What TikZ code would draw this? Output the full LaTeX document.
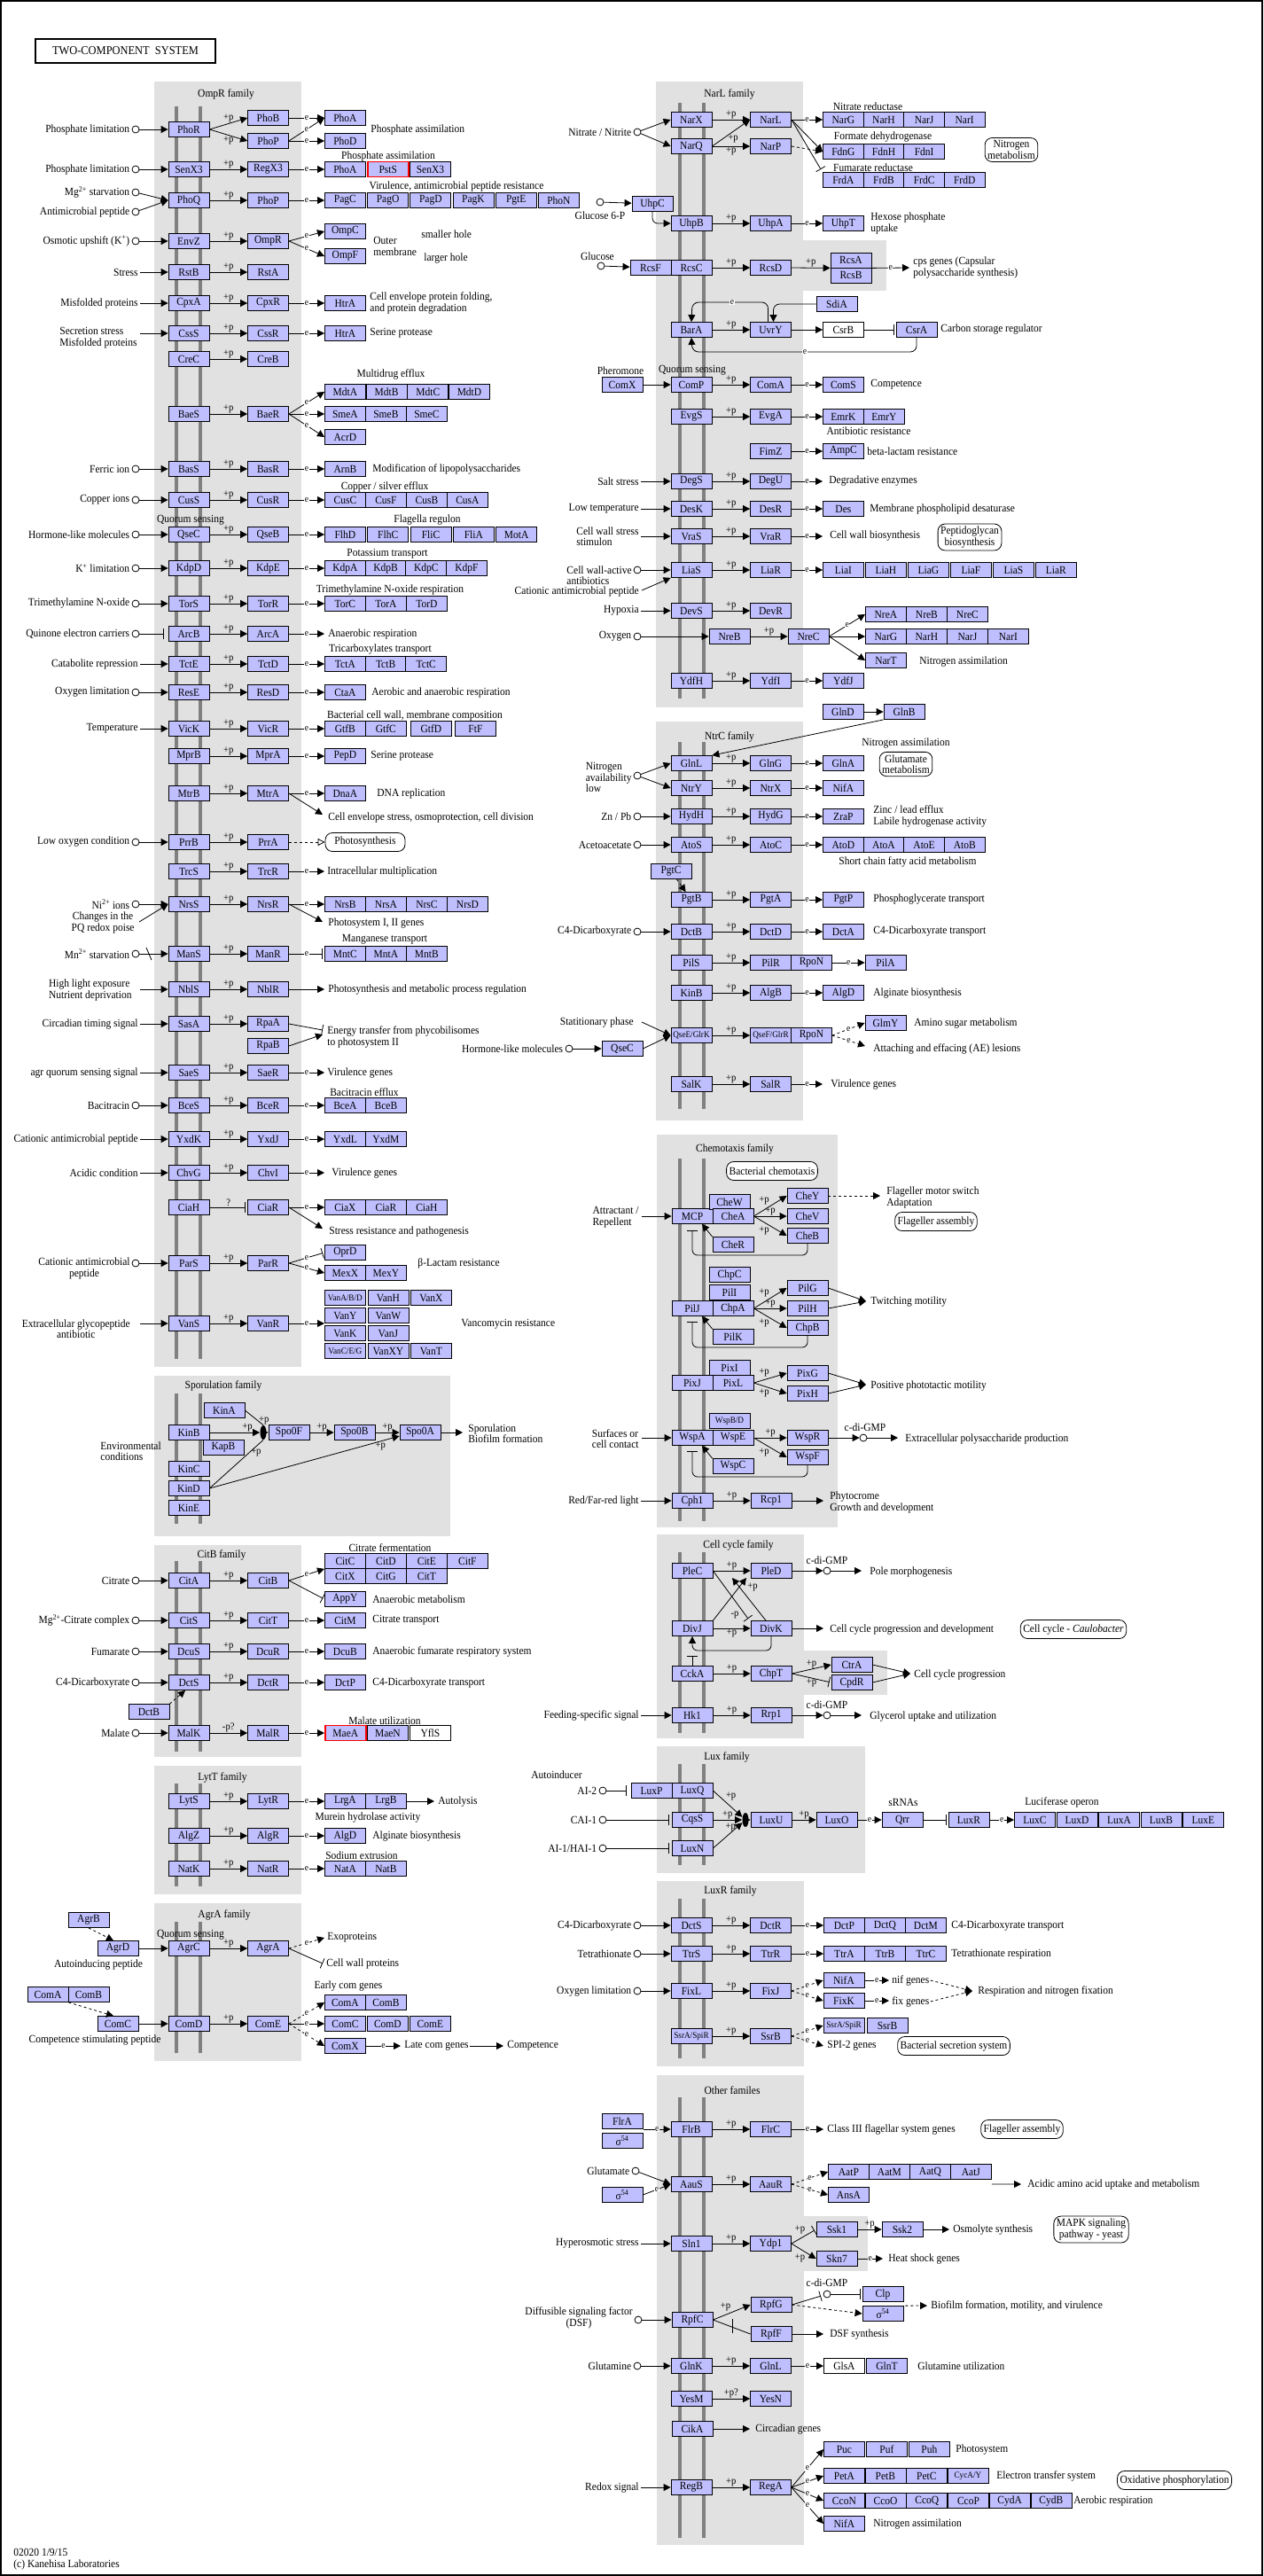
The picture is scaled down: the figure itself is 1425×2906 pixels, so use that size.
\documentclass[tikz,border=0pt]{standalone}
\usepackage{fontspec}
\setmainfont{Liberation Serif}[FakeStretch=0.92]
\usetikzlibrary{arrows.meta,shapes.geometric}

\definecolor{kgene}{RGB}{191,191,255}
\definecolor{kpanel}{RGB}{225,225,225}
\definecolor{kbar}{RGB}{128,128,128}

\tikzset{
  every node/.style={font=\fontsize{12.5}{12.5}\selectfont},
  gene/.style={draw, fill=kgene, minimum width=46pt, minimum height=17pt, inner sep=0pt},
  wgene/.style={gene, fill=white},
  rgene/.style={gene, draw=red, line width=1.6pt},
  mbar/.style={draw=kbar, line width=4pt},
  sigc/.style={circle, draw, fill=white, minimum size=8pt, inner sep=0pt},
  act/.style={-{Triangle[length=8pt,width=8pt]}},
  inh/.style={-{Bar[width=12pt]}, shorten >=2pt},
  dact/.style={act, dashed},
  junc/.style={ellipse, fill=black, minimum width=7pt, minimum height=16pt, inner sep=0pt},
  txt/.style={inner sep=1pt, align=left},
  lbl/.style={inner sep=1pt, font=\fontsize{11.5}{11.5}\selectfont},
  elab/.style={fill=white, inner sep=0.6pt, font=\fontsize{10.5}{10.5}\selectfont},
  rbox/.style={draw, fill=white, rounded corners=8pt, inner sep=3pt, minimum height=21pt, align=center},
}

\newcommand{\sm}[1]{{\fontsize{10}{10}\selectfont #1}}
% sensor -> regulator pair: [label]{id}{x}{y}{sensor}{regulator}
\newcommand{\tcs}[6][+p]{%
  \node[gene] (#2s) at (#3,#4) {#5};
  \node[gene] (#2r) at ({#3+89.5},#4) {#6};
  \draw[act] (#2s) -- node[lbl,above]{#1} (#2r);}
% genes side by side: {id}{x}{y}{spacing}{list}
\newcommand{\chain}[5]{%
  \foreach \g [count=\i] in {#5} {\node[gene,anchor=west] (#1\i) at ({#2+(\i-1)*#4},#3) {\g};}}
\newcommand{\eto}[2]{\draw[act] (#1) -- node[elab]{e} (#2);}
\newcommand{\sig}[4]{\node[sigc] (#1) at (#2,#3) {}; \node[txt,anchor=east] at ([xshift=-1pt]#1.west) {#4};}
\newcommand{\psig}[4]{\coordinate (#1) at (#2,#3); \node[txt,anchor=east] at ([xshift=-1pt]#1) {#4};}

\begin{document}
\begin{tikzpicture}[x=1pt, y=-1pt, line width=0.8pt]
\useasboundingbox (0,0) rectangle (1425,2906);
\draw[line width=1.5pt] (1,1) rectangle (1424,2905);
\node[draw, line width=2pt, minimum width=203pt, minimum height=27pt, inner sep=0pt,
  font=\fontsize{13.5}{14}\selectfont] (title) at (141.5,57.5) {TWO-COMPONENT\ \ SYSTEM};

% family panels
\fill[kpanel] (174,92) rectangle (340,1542);
\fill[kpanel] (174,1552) rectangle (508,1733);
\fill[kpanel] (174,1743) rectangle (340,1982);
\fill[kpanel] (174,1992) rectangle (340,2137);
\fill[kpanel] (174,2147) rectangle (340,2325);
\fill[kpanel] (740,92) rectangle (906,798);
\fill[kpanel] (906,271) rectangle (1000,328);
\fill[kpanel] (740,814) rectangle (906,1264);
\fill[kpanel] (741,1280) rectangle (945,1723);
\fill[kpanel] (741,1731) rectangle (907,1961);
\fill[kpanel] (907,1862) rectangle (1001,1912);
\fill[kpanel] (741,1970) rectangle (976,2113);
\fill[kpanel] (741,2122) rectangle (907,2331);
\fill[kpanel] (741,2341) rectangle (907,2871);
\fill[kpanel] (907,2500) rectangle (979,2562);
\foreach \xa/\ya/\yb in {199/120/1533, 226/120/1533, 199/1572/1719, 226/1572/1719,
    199/1761/1976, 226/1761/1976, 199/2012/2128, 226/2012/2128, 199/2168/2316, 226/2168/2316,
    767/116/788, 794/116/788, 767/837/1251, 794/837/1251, 767/1307/1716, 794/1307/1716,
    767/1751/1955, 794/1751/1955, 767/1990/2104, 794/1990/2104, 767/2142/2322, 794/2142/2322,
    767/2366/2863, 794/2366/2863}
  \draw[mbar] (\xa,\ya) -- (\xa,\yb);
\node at (255,106) {OmpR family};
\node at (252,1563) {Sporulation family};
\node at (250,1754) {CitB family};
\node at (251,2005) {LytT family};
\node at (253,2160) {AgrA family};
\node at (823,106) {NarL family};
\node at (823,831) {NtrC family};
\node at (829,1296) {Chemotaxis family};
\node at (833,1743) {Cell cycle family};
\node at (820,1982) {Lux family};
\node at (824,2133) {LuxR family};
\node at (826,2358) {Other familes};

% ---- OmpR family ----
\sig{pho1c}{153}{146}{Phosphate limitation}
\node[gene] (phor) at (213,146) {PhoR};
\node[gene] (phob) at (302.5,133) {PhoB};
\node[gene] (phop) at (302.5,159) {PhoP};
\draw[act] (pho1c) -- (phor);
\draw[act] (phor.east) -- node[lbl,above]{+p} (phob.west);
\draw[act] (phor.east) -- node[lbl,below]{+p} (phop.west);
\node[gene,anchor=west] (phoa) at (366,133) {PhoA};
\node[gene,anchor=west] (phod) at (366,159) {PhoD};
\eto{phob}{phoa}
\eto{phop}{phod}
\draw[act] (phop.east) -- node[elab]{e} (phoa.west);
\node[txt,anchor=west] at (417,146) {Phosphate assimilation};

\sig{senc}{153}{191}{Phosphate limitation}
\tcs{senx}{213}{191}{SenX3}{RegX3}
\draw[act] (senc) -- (senxs);
\node[gene,anchor=west] (px1) at (366,191) {PhoA};
\node[rgene,anchor=west] (px2) at (414,191) {PstS};
\node[gene,anchor=west] (px3) at (462,191) {SenX3};
\eto{senxr}{px1}
\node at (438,176) {Phosphate assimilation};

\sig{mgc}{153}{217}{Mg\textsuperscript{2+} starvation}
\sig{amc}{153}{239}{Antimicrobial peptide}
\tcs{phoq}{213}{226}{PhoQ}{PhoP}
\draw[act] (mgc) -- (phoqs.west);
\draw[act] (amc) -- (phoqs.west);
\chain{pag}{366}{226}{48.2}{PagC,PagO,PagD,PagK,PgtE,PhoN}
\eto{phoqr}{pag1}
\node at (515,210) {Virulence, antimicrobial peptide resistance};

\sig{osmc}{153}{272}{Osmotic upshift (K\textsuperscript{+})}
\tcs{envz}{213}{272}{EnvZ}{OmpR}
\draw[act] (osmc) -- (envzs);
\node[gene,anchor=west] (ompc) at (366,261) {OmpC};
\node[gene,anchor=west] (ompf) at (366,289) {OmpF};
\draw[act] (envzr.east) -- node[elab]{e} (ompc.west);
\draw[act] (envzr.east) -- node[elab]{e} (ompf.west);
\node[txt,anchor=west] at (420,278) {Outer\\membrane};
\node[txt,anchor=west] at (474,264) {smaller hole};
\node[txt,anchor=west] at (477,292) {larger hole};

\psig{strc}{158}{307}{Stress}
\tcs{rst}{213}{307}{RstB}{RstA}
\draw[act] (strc) -- (rsts);

\psig{mfc}{158}{342}{Misfolded proteins}
\tcs{cpx}{213}{342}{CpxA}{CpxR}
\draw[act] (mfc) -- (cpxs);
\node[gene,anchor=west] (htra1) at (366,342) {HtrA};
\eto{cpxr}{htra1}
\node[txt,anchor=west] at (416,342) {Cell envelope protein folding,\\and protein degradation};

\coordinate (secc) at (158,376);
\node[txt,anchor=east] at (156,381) {Secretion stress\\Misfolded proteins};
\tcs{css}{213}{376}{CssS}{CssR}
\draw[act] (secc) -- (csss);
\node[gene,anchor=west] (htra2) at (366,376) {HtrA};
\eto{cssr}{htra2}
\node[txt,anchor=west] at (416,376) {Serine protease};

\tcs{cre}{213}{405}{CreC}{CreB}

\tcs{bae}{213}{467}{BaeS}{BaeR}
\chain{mdt}{366}{442}{46.7}{MdtA,MdtB,MdtC,MdtD}
\chain{sme}{366}{467}{46}{SmeA,SmeB,SmeC}
\node[gene,anchor=west] (acrd) at (366,493) {AcrD};
\draw[act] (baer.east) -- node[elab]{e} (mdt1.west);
\eto{baer}{sme1}
\draw[act] (baer.east) -- node[elab]{e} (acrd.west);
\node at (441,422) {Multidrug efflux};

\sig{fec}{153}{529}{Ferric ion}
\tcs{bas}{213}{529}{BasS}{BasR}
\draw[act] (fec) -- (bass);
\node[gene,anchor=west] (arnb) at (366,529) {ArnB};
\eto{basr}{arnb}
\node[txt,anchor=west] at (419,529) {Modification of lipopolysaccharides};

\sig{cuc}{153}{564}{Copper ions}
\tcs{cus}{213}{564}{CusS}{CusR}
\draw[act] (cuc) -- (cuss);
\chain{cusg}{366}{564}{46}{CusC,CusF,CusB,CusA}
\eto{cusr}{cusg1}
\node at (434,549) {Copper / silver efflux};

\sig{hlc}{153}{603}{Hormone-like molecules}
\tcs{qse}{213}{603}{QseC}{QseB}
\draw[act] (hlc) -- (qses);
\chain{fl}{366}{603}{48.3}{FlhD,FlhC,FliC,FliA,MotA}
\eto{qser}{fl1}
\node at (215,587) {Quorum sensing};
\node at (482,587) {Flagella regulon};

\sig{kc}{153}{641}{K\textsuperscript{+} limitation}
\tcs{kdp}{213}{641}{KdpD}{KdpE}
\draw[act] (kc) -- (kdps);
\chain{kdpg}{366}{641}{45.7}{KdpA,KdpB,KdpC,KdpF}
\eto{kdpr}{kdpg1}
\node at (437,625) {Potassium transport};

\sig{tmc}{153}{681}{Trimethylamine N-oxide}
\tcs{tor}{213}{681}{TorS}{TorR}
\draw[act] (tmc) -- (tors);
\chain{torg}{366}{681}{46}{TorC,TorA,TorD}
\eto{torr}{torg1}
\node at (440,666) {Trimethylamine N-oxide respiration};

\sig{qc}{153}{715}{Quinone electron carriers}
\tcs{arc}{213}{715}{ArcB}{ArcA}
\draw[inh, shorten >=5pt] (qc) -- (arcs);
\coordinate (anr) at (366,715);
\eto{arcr}{anr}
\node[txt,anchor=west] at (369,715) {Anaerobic respiration};

\psig{catc}{158}{749}{Catabolite repression}
\tcs{tct}{213}{749}{TctE}{TctD}
\draw[act] (catc) -- (tcts);
\chain{tctg}{366}{749}{45.7}{TctA,TctB,TctC}
\eto{tctr}{tctg1}
\node at (429,733) {Tricarboxylates transport};

\sig{olc}{153}{781}{Oxygen limitation}
\tcs{res}{213}{781}{ResE}{ResD}
\draw[act] (olc) -- (ress);
\node[gene,anchor=west] (ctaa) at (366,781) {CtaA};
\eto{resr}{ctaa}
\node[txt,anchor=west] at (418,781) {Aerobic and anaerobic respiration};

\psig{tmpc}{158}{822}{Temperature}
\tcs{vic}{213}{822}{VicK}{VicR}
\draw[act] (tmpc) -- (vics);
\chain{gtf}{366}{822}{46}{GtfB,GtfC}
\node[gene,anchor=west] (gtfd) at (463,822) {GtfD};
\node[gene,anchor=west] (ftf) at (513,822) {FtF};
\eto{vicr}{gtf1}
\node at (468,807) {Bacterial cell wall, membrane composition};

\tcs{mpr}{213}{853}{MprB}{MprA}
\node[gene,anchor=west] (pepd) at (366,853) {PepD};
\eto{mprr}{pepd}
\node[txt,anchor=west] at (417,853) {Serine protease};

\tcs{mtr}{213}{895}{MtrB}{MtrA}
\node[gene,anchor=west] (dnaa) at (366,895) {DnaA};
\eto{mtrr}{dnaa}
\node[txt,anchor=west] at (424,895) {DNA replication};
\coordinate (cesc) at (364,919);
\draw[act] (mtrr.east) -- (cesc);
\node[txt,anchor=west] at (369,922) {Cell envelope stress, osmoprotection, cell division};

\sig{loc}{153}{950}{Low oxygen condition}
\tcs{prr}{213}{950}{PrrB}{PrrA}
\draw[act] (loc) -- (prrs);
\node[rbox, minimum width=90pt] (photo) at (412,950) {Photosynthesis};
\draw[dashed, -{Triangle[open,length=8pt,width=8pt]}] (prrr) -- (photo);

\tcs{trc}{213}{983}{TrcS}{TrcR}
\coordinate (imc) at (366,983);
\eto{trcr}{imc}
\node[txt,anchor=west] at (368,983) {Intracellular multiplication};

\sig{nic}{153}{1020}{Ni\textsuperscript{2+} ions}
\tcs{nrs}{213}{1020}{NrsS}{NrsR}
\draw[act] (nic) -- (nrss);
\coordinate (pqc) at (157,1040);
\node[txt,anchor=east,align=center] at (153,1041) {Changes in the\\PQ redox poise};
\draw[act] (pqc) -- (nrss.west);
\chain{nrsg}{366}{1020}{46}{NrsB,NrsA,NrsC,NrsD}
\eto{nrsr}{nrsg1}
\coordinate (psc) at (364,1040);
\draw[act] (nrsr.east) -- (psc);
\node[txt,anchor=west] at (369,1042) {Photosystem I, II genes};

\sig{mnc}{153}{1076}{Mn\textsuperscript{2+} starvation}
\tcs{man}{213}{1076}{ManS}{ManR}
\draw[act] (mnc) -- (mans);
\draw (165,1069) -- (171,1083);
\chain{mnt}{366}{1076}{46}{MntC,MntA,MntB}
\draw[inh] (manr) -- node[elab]{e} (mnt1);
\node at (434,1060) {Manganese transport};

\coordinate (hlec) at (158,1116);
\node[txt,anchor=east] at (150,1117) {High light exposure\\Nutrient deprivation};
\tcs{nbl}{213}{1116}{NblS}{NblR}
\draw[act] (hlec) -- (nbls);
\coordinate (pmc) at (366,1116);
\draw[act] (nblr) -- (pmc);
\node[txt,anchor=west] at (369,1116) {Photosynthesis and metabolic process regulation};

\psig{cts}{158}{1155}{Circadian timing signal}
\tcs{sas}{213}{1155}{SasA}{RpaA}
\draw[act] (cts) -- (sass);
\node[gene] (rpab) at (302.5,1180) {RpaB};
\coordinate (ene1) at (364,1162);
\coordinate (ene2) at (364,1167);
\draw[inh, shorten >=0pt] (sasr.east) -- (ene1);
\draw[act] (rpab.east) -- (ene2);
\node[txt,anchor=west] at (368,1170) {Energy transfer from phycobilisomes\\to photosystem II};

\psig{agc}{158}{1210}{agr quorum sensing signal}
\tcs{sae}{213}{1210}{SaeS}{SaeR}
\draw[act] (agc) -- (saes);
\coordinate (vg1) at (366,1210);
\eto{saer}{vg1}
\node[txt,anchor=west] at (368,1210) {Virulence genes};

\sig{bcc}{153}{1247}{Bacitracin}
\tcs{bce}{213}{1247}{BceS}{BceR}
\draw[act] (bcc) -- (bces);
\chain{bceg}{366}{1247}{46}{BceA,BceB}
\eto{bcer}{bceg1}
\node at (411,1232) {Bacitracin efflux};

\psig{cap1}{158}{1285}{Cationic antimicrobial peptide}
\tcs{yxd}{213}{1285}{YxdK}{YxdJ}
\draw[act] (cap1) -- (yxds);
\chain{yxdg}{366}{1285}{46}{YxdL,YxdM}
\eto{yxdr}{yxdg1}

\psig{acc}{158}{1323}{Acidic condition}
\tcs{chv}{213}{1323}{ChvG}{ChvI}
\draw[act] (acc) -- (chvs);
\coordinate (vg2) at (366,1323);
\eto{chvr}{vg2}
\node[txt,anchor=west] at (373,1323) {Virulence genes};

\node[gene] (ciah) at (213,1362) {CiaH};
\node[gene] (ciar) at (302.5,1362) {CiaR};
\draw[inh] (ciah) -- node[lbl,above]{?} (ciar);
\chain{ciag}{366}{1362}{46}{CiaX,CiaR,CiaH}
\eto{ciar}{ciag1}
\coordinate (srpc) at (364,1386);
\draw[act] (ciar.east) -- (srpc);
\node[txt,anchor=west] at (370,1389) {Stress resistance and pathogenesis};

\node[sigc] (cap2) at (153,1425) {};
\node[txt,anchor=east,align=center] at (148,1431) {Cationic antimicrobial\\peptide};
\tcs{par}{213}{1425}{ParS}{ParR}
\draw[act] (cap2) -- (pars);
\node[gene,anchor=west] (oprd) at (366,1413) {OprD};
\chain{mex}{366}{1436}{46}{MexX,MexY}
\draw[inh] (parr.east) -- node[elab]{e} (oprd.west);
\draw[act] (parr.east) -- node[elab]{e} (mex1.west);
\node[txt,anchor=west] at (470,1425) {β-Lactam resistance};

\coordinate (egc) at (158,1493);
\node[txt,anchor=east,align=center] at (148,1499) {Extracellular glycopeptide\\antibiotic};
\tcs{van}{213}{1493}{VanS}{VanR}
\draw[act] (egc) -- (vans);
\chain{vana}{366}{1464}{48.5}{\sm{VanA/B/D},VanH,VanX}
\chain{vanb}{366}{1484}{48.5}{VanY,VanW}
\chain{vanc}{366}{1504}{48.5}{VanK,VanJ}
\chain{vand}{366}{1524}{48.5}{\sm{VanC/E/G},VanXY,VanT}
\coordinate (vanin) at (366,1493);
\eto{vanr}{vanin}
\node[txt,anchor=west] at (519,1494) {Vancomycin resistance};

% ---- Sporulation family ----
\node[gene] (kina) at (253,1591) {KinA};
\node[gene] (kinb) at (213,1616) {KinB};
\node[gene] (kapb) at (252,1633) {KapB};
\node[gene] (kinc) at (213,1657) {KinC};
\node[gene] (kind) at (213,1679) {KinD};
\node[gene] (kine) at (213,1701) {KinE};
\node[junc] (spj) at (297,1616) {};
\node[gene] (spof) at (326,1616) {Spo0F};
\node[gene] (spob) at (400,1616) {Spo0B};
\node[gene] (spoa) at (474,1616) {Spo0A};
\draw[act] (kinb) -- node[lbl,above,pos=0.75]{+p} (spj);
\draw (kina.east) -- node[lbl,right,pos=0.7]{+p} (spj.north);
\draw (kind.east) -- node[lbl,right,pos=0.75]{+p} (spj.south);
\draw[act] (spj) -- (spof);
\draw[act] (spof) -- node[lbl,above]{+p} (spob);
\draw[act] (spob) -- node[lbl,above]{+p} (spoa);
\draw[act] (kind.east) -- node[lbl,below,pos=0.9]{+p} ([yshift=-4pt]spoa.west);
\coordinate (spor) at (522,1616);
\draw[act] (spoa) -- (spor);
\node[txt,anchor=west] at (527,1617) {Sporulation\\Biofilm formation};
\node[txt,anchor=west] at (112,1637) {Environmental\\conditions};

% ---- CitB family ----
\sig{citc}{153}{1783}{Citrate}
\tcs{cita}{213}{1783}{CitA}{CitB}
\draw[act] (citc) -- (citas);
\chain{citu}{366}{1761}{46}{CitC,CitD,CitE,CitF}
\chain{citl}{366}{1778}{46}{CitX,CitG,CitT}
\draw[act] (citar.east) -- node[elab]{e} (citu1.south west);
\node[gene,anchor=west] (appy) at (366,1804) {AppY};
\draw[inh] (citar.east) -- (appy.west);
\node[txt,anchor=west] at (419,1804) {Anaerobic metabolism};
\node at (440,1746) {Citrate fermentation};

\sig{mgcc}{153}{1828}{Mg\textsuperscript{2+}-Citrate complex}
\tcs{cits}{213}{1828}{CitS}{CitT}
\draw[act] (mgcc) -- (citss);
\node[gene,anchor=west] (citm) at (366,1828) {CitM};
\eto{citsr}{citm}
\node[txt,anchor=west] at (419,1828) {Citrate transport};

\sig{fumc}{153}{1863}{Fumarate}
\tcs{dcu}{213}{1863}{DcuS}{DcuR}
\draw[act] (fumc) -- (dcus);
\node[gene,anchor=west] (dcub) at (366,1863) {DcuB};
\eto{dcur}{dcub}
\node[txt,anchor=west] at (419,1863) {Anaerobic fumarate respiratory system};

\sig{c4c}{153}{1898}{C4-Dicarboxyrate}
\tcs{dct}{213}{1898}{DctS}{DctR}
\draw[act] (c4c) -- (dcts);
\node[gene,anchor=west] (dctp) at (366,1898) {DctP};
\eto{dctr}{dctp}
\node[txt,anchor=west] at (419,1898) {C4-Dicarboxyrate transport};
\node[gene] (dctb) at (168,1931) {DctB};
\draw[dact] (dctb.north east) -- ([xshift=-4pt]dcts.south);

\sig{malc}{153}{1955}{Malate}
\tcs[-p?]{mal}{213}{1955}{MalK}{MalR}
\draw[act] (malc) -- (mals);
\node[rgene,anchor=west] (maea) at (366,1955) {MaeA};
\node[gene,anchor=west] (maen) at (414,1955) {MaeN};
\node[wgene,anchor=west] (yfls) at (462,1955) {YflS};
\eto{malr}{maea}
\node at (434,1941) {Malate utilization};

% ---- LytT family ----
\tcs{lyt}{213}{2032}{LytS}{LytR}
\chain{lrg}{366}{2032}{46}{LrgA,LrgB}
\eto{lytr}{lrg1}
\coordinate (autc) at (490,2032);
\draw[act] (lrg2) -- (autc);
\node[txt,anchor=west] at (493,2032) {Autolysis};
\node at (415,2050) {Murein hydrolase activity};

\tcs{algz}{213}{2071}{AlgZ}{AlgR}
\node[gene,anchor=west] (algd1) at (366,2071) {AlgD};
\eto{algzr}{algd1}
\node[txt,anchor=west] at (419,2071) {Alginate biosynthesis};

\tcs{nat}{213}{2108}{NatK}{NatR}
\chain{natg}{366}{2108}{46}{NatA,NatB}
\eto{natr}{natg1}
\node at (408,2093) {Sodium extrusion};

% ---- AgrA family ----
\node at (215,2183) {Quorum sensing};
\tcs{agr}{213}{2198}{AgrC}{AgrA}
\node[gene] (agrb) at (100,2166) {AgrB};
\node[gene] (agrd) at (133,2198) {AgrD};
\draw[dact] (agrb.south) -- ([xshift=-5pt]agrd.north);
\draw[act] (agrd) -- (agrs);
\node at (111,2216) {Autoinducing peptide};
\coordinate (exo) at (366,2186);
\draw[dact] (agrr.east) -- node[elab]{e} (exo);
\node[txt,anchor=west] at (368,2186) {Exoproteins};
\coordinate (cwp) at (364,2215);
\draw[inh, shorten >=0pt] (agrr.east) -- (cwp);
\node[txt,anchor=west] at (367,2215) {Cell wall proteins};

\tcs{com}{213}{2283}{ComD}{ComE}
\node[gene] (coma0) at (54,2250) {ComA};
\node[gene] (comb0) at (100,2250) {ComB};
\node[gene] (comc0) at (133,2283) {ComC};
\draw[dact] (coma0.south east) -- ([xshift=-5pt]comc0.north);
\draw[act] (comc0) -- (coms);
\node at (107,2301) {Competence stimulating peptide};
\chain{ecom}{366}{2259}{46}{ComA,ComB}
\chain{ccom}{366}{2283}{48}{ComC,ComD,ComE}
\node[gene,anchor=west] (comx) at (366,2308) {ComX};
\draw[dact] (comr.east) -- node[elab]{e} (ecom1.west);
\eto{comr}{ccom1}
\draw[dact] (comr.east) -- node[elab]{e} (comx.west);
\coordinate (lcg) at (452,2308);
\eto{comx}{lcg}
\node[txt,anchor=west] (lcgt) at (455,2308) {Late com genes};
\coordinate (cmp) at (568,2308);
\draw[act] (lcgt.east) -- (cmp);
\node[txt,anchor=west] at (571,2308) {Competence};
\node at (393,2240) {Early com genes};

\node[txt,anchor=west] at (14,2887) {02020 1/9/15\\(c) Kanehisa Laboratories};

% ---- NarL family ----
\sig{nnc}{719}{149}{Nitrate / Nitrite}
\node[gene] (narx) at (780,135) {NarX};
\node[gene] (narq) at (780,165) {NarQ};
\node[gene] (narl) at (869.5,135) {NarL};
\node[gene] (narp) at (869.5,165) {NarP};
\draw[act] (nnc) -- (narx.west);
\draw[act] (nnc) -- (narq.west);
\draw[act] (narx) -- node[lbl,above]{+p} (narl);
\draw[act] (narq.east) -- (narl.west);
\draw[act] (narq) -- node[lbl,below]{+p} (narp);
\node[lbl] at (827,156) {+p};
\chain{narg}{928}{135}{45.6}{NarG,NarH,NarJ,NarI}
\eto{narl}{narg1}
\chain{fdn}{928}{171}{45.6}{FdnG,FdnH,FdnI}
\chain{frd}{928}{203}{45.6}{FrdA,FrdB,FrdC,FrdD}
\draw[act] (narl.east) -- (fdn1.west);
\draw[dact] (narp.east) -- (fdn1.west);
\coordinate (frdbar) at (926,191);
\draw[inh, shorten >=0pt] (narl.east) -- (frdbar);
\node at (979,120) {Nitrate reductase};
\node at (996,155) {Formate dehydrogenase};
\node at (985,189) {Fumarate reductase};
\node[rbox] at (1141,169) {Nitrogen\\metabolism};

\node[sigc] (g6c) at (677,228) {};
\node at (677,243) {Glucose 6-P};
\node[gene] (uhpc) at (736,230) {UhpC};
\draw[act] (g6c) -- (uhpc);
\tcs{uhp}{780}{252}{UhpB}{UhpA}
\draw[act, rounded corners=6pt] (uhpc.south) |- (uhps.west);
\node[gene,anchor=west] (uhpt) at (928,252) {UhpT};
\eto{uhpr}{uhpt}
\node[txt,anchor=west] at (981,252) {Hexose phosphate\\uptake};

\node[sigc] (gluc) at (678,300) {};
\node at (674,289) {Glucose};
\node[gene] (rcsf) at (734,302) {RcsF};
\draw[act] (gluc) -- (rcsf);
\tcs{rcs}{780}{302}{RcsC}{RcsD}
\node[gene] (rcsa) at (960,293.5) {RcsA};
\node[gene] (rcsb) at (960,310.5) {RcsB};
\draw[act] (rcsr.east) -- node[lbl,above]{+p} (rcsa.south west);
\coordinate (cpsc) at (1026,302);
\draw[act] (rcsa.south east) -- node[elab]{e} (cpsc);
\node[txt,anchor=west] at (1029,302) {cps genes (Capsular\\polysaccharide synthesis)};

\tcs{bar}{780}{372}{BarA}{UvrY}
\node[gene] (sdia) at (944,343) {SdiA};
\node[wgene,anchor=west] (csrb) at (928,372) {CsrB};
\node[gene] (csra) at (1034,372) {CsrA};
\draw[act] (barr) -- (csrb);
\draw[inh] (csrb) -- (csra);
\coordinate (bl2) at (781,341);
\draw[act, rounded corners=7pt] ([xshift=-3pt]barr.north) |- (bl2) -- (bars.north);
\node[elab] at (826,341) {e};
\draw[act, rounded corners=7pt] (sdia.west) -| ([xshift=3pt]barr.north);
\coordinate (bb) at (781,397);
\draw[act, rounded corners=7pt] (csra.south) |- (bb) -- (bars.south);
\node[elab] at (908,397) {e};
\node[txt,anchor=west] at (1060,372) {Carbon storage regulator};

\node at (700,418) {Pheromone};
\node[gene] (comx2) at (702,434) {ComX};
\node at (781,418) {Quorum sensing};
\tcs{comp}{780}{434}{ComP}{ComA}
\draw[act] (comx2) -- (comps);
\node[gene,anchor=west] (coms2) at (928,434) {ComS};
\eto{compr}{coms2}
\node[txt,anchor=west] at (981,434) {Competence};

\tcs{evg}{780}{470}{EvgS}{EvgA}
\chain{emr}{928}{470}{46}{EmrK,EmrY}
\eto{evgr}{emr1}
\node at (980,486) {Antibiotic resistance};

\node[gene] (fimz) at (869.5,509) {FimZ};
\node[gene,anchor=west] (ampc2) at (928,509) {AmpC};
\eto{fimz}{ampc2}
\node[txt,anchor=west] at (977,509) {beta-lactam resistance};

\psig{ssc2}{723}{543}{Salt stress}
\tcs{deg}{780}{543}{DegS}{DegU}
\draw[act] (ssc2) -- (degs);
\coordinate (dgc) at (928,543);
\eto{degr}{dgc}
\node[txt,anchor=west] at (934,543) {Degradative enzymes};

\psig{ltc}{723}{574}{Low temperature}
\tcs{des}{780}{574}{DesK}{DesR}
\draw[act] (ltc) -- (dess);
\node[gene,anchor=west] (desg) at (928,574) {Des};
\eto{desr}{desg}
\node[txt,anchor=west] at (980,574) {Membrane phospholipid desaturase};

\coordinate (cws) at (723,605);
\node[txt,anchor=east] at (722,605) {Cell wall stress\\stimulon};
\tcs{vra}{780}{605}{VraS}{VraR}
\draw[act] (cws) -- (vras);
\coordinate (cwb) at (928,605);
\eto{vrar}{cwb}
\node[txt,anchor=west] at (935,605) {Cell wall biosynthesis};
\node[rbox] at (1094,606) {Peptidoglycan\\biosynthesis};

\node[sigc] (cwa) at (719,643) {};
\node[txt,anchor=east] at (714,649) {Cell wall-active\\antibiotics};
\coordinate (cap3) at (724,666);
\node[txt,anchor=east] at (722,667) {Cationic antimicrobial peptide};
\tcs{lia}{780}{643}{LiaS}{LiaR}
\draw[act] (cwa) -- (lias);
\draw[act] (cap3) -- (lias.south west);
\chain{liag}{928}{643}{48}{LiaI,LiaH,LiaG,LiaF,LiaS,LiaR}
\eto{liar}{liag1}

\psig{hyc}{723}{689}{Hypoxia}
\tcs{dev}{780}{689}{DevS}{DevR}
\draw[act] (hyc) -- (devs);

\sig{oxc}{719}{718}{Oxygen}
\node[gene] (nreb) at (823,718) {NreB};
\node[gene] (nrec) at (912,718) {NreC};
\draw[act] (oxc) -- (nreb);
\draw[act] (nreb) -- node[lbl,above]{+p} (nrec);
\chain{nreg}{976}{693}{46}{NreA,NreB,NreC}
\chain{nar2g}{976}{718}{46}{NarG,NarH,NarJ,NarI}
\node[gene,anchor=west] (nart) at (976,745) {NarT};
\draw[act] (nrec.east) -- node[elab]{e} (nreg1.west);
\draw[act] (nrec) -- (nar2g1);
\draw[act] (nrec.east) -- (nart.west);
\node[txt,anchor=west] at (1036,747) {Nitrogen assimilation};

\tcs{ydf}{780}{768}{YdfH}{YdfI}
\node[gene,anchor=west] (ydfj) at (928,768) {YdfJ};
\eto{ydfr}{ydfj}

% ---- NtrC family ----
\node[gene] (glnd) at (951,803) {GlnD};
\node[gene] (glnb) at (1020,803) {GlnB};
\draw[act] (glnd) -- (glnb);
\node[sigc] (nalc) at (719,875) {};
\node[txt,anchor=east] at (714,877) {Nitrogen\\availability\\low};
\tcs{gln}{780}{861}{GlnL}{GlnG}
\tcs{ntr}{780}{889}{NtrY}{NtrX}
\draw[act] (glnb.south west) -- (glns.north east);
\draw[act] (nalc) -- (glns.west);
\draw[act] (nalc) -- (ntrs.west);
\node[gene,anchor=west] (glna) at (928,861) {GlnA};
\node[gene,anchor=west] (nifa1) at (928,889) {NifA};
\eto{glnr}{glna}
\eto{ntrr}{nifa1}
\node at (1022,839) {Nitrogen assimilation};
\node[rbox] at (1022,862) {Glutamate\\metabolism};

\sig{znc}{719}{921}{Zn / Pb}
\tcs{hyd}{780}{921}{HydH}{HydG}
\draw[act] (znc) -- (hyds);
\node[gene,anchor=west] (zrap) at (928,921) {ZraP};
\eto{hydr}{zrap}
\node[txt,anchor=west] at (984,921) {Zinc / lead efflux\\Labile hydrogenase activity};

\sig{aac}{719}{953}{Acetoacetate}
\tcs{ato}{780}{953}{AtoS}{AtoC}
\draw[act] (aac) -- (atos);
\chain{atog}{928}{953}{45.6}{AtoD,AtoA,AtoE,AtoB}
\eto{ator}{atog1}
\node at (1024,972) {Short chain fatty acid metabolism};

\node[gene] (pgtc) at (757,983) {PgtC};
\tcs{pgt}{780}{1015}{PgtB}{PgtA}
\draw[dact] (pgtc) -- (pgts);
\node[gene,anchor=west] (pgtp) at (928,1015) {PgtP};
\eto{pgtr}{pgtp}
\node[txt,anchor=west] at (984,1015) {Phosphoglycerate transport};

\sig{c4c2}{719}{1051}{C4-Dicarboxyrate}
\tcs{dctb}{780}{1051}{DctB}{DctD}
\draw[act] (c4c2) -- (dctbs);
\node[gene,anchor=west] (dcta) at (928,1051) {DctA};
\eto{dctbr}{dcta}
\node[txt,anchor=west] at (984,1051) {C4-Dicarboxyrate transport};

\tcs{pil}{780}{1086}{PilS}{PilR}
\node[gene] (rpon1) at (915.5,1086) {RpoN};
\node[gene] (pila) at (999,1086) {PilA};
\eto{rpon1}{pila}

\tcs{kinb2}{780}{1120}{KinB}{AlgB}
\node[gene,anchor=west] (algd2) at (928,1120) {AlgD};
\eto{kinb2r}{algd2}
\node[txt,anchor=west] at (984,1120) {Alginate biosynthesis};

\tcs{qsee}{780}{1168}{\sm{QseE/GlrK}}{\sm{QseF/GlrR}}
\node[gene] (rpon2) at (915.5,1168) {RpoN};
\node[gene] (glmy) at (999,1154) {GlmY};
\draw[dact] (rpon2.east) -- node[elab]{e} (glmy.west);
\coordinate (aec) at (976,1180);
\draw[dact] (rpon2.east) -- node[elab]{e} (aec);
\node[txt,anchor=west] at (1030,1154) {Amino sugar metabolism};
\node[txt,anchor=west] at (984,1183) {Attaching and effacing (AE) lesions};
\coordinate (spc) at (724,1153);
\node[txt,anchor=east] at (716,1153) {Statitionary phase};
\draw[act] (spc) -- (qsees.west);
\sig{hlc2}{642}{1183}{Hormone-like molecules}
\node[gene] (qsec2) at (702,1183) {QseC};
\draw[act] (hlc2) -- (qsec2);
\draw[act] (qsec2.east) -- (qsees.west);

\tcs{sal}{780}{1223}{SalK}{SalR}
\coordinate (vg3) at (928,1223);
\eto{salr}{vg3}
\node[txt,anchor=west] at (936,1223) {Virulence genes};

% ---- Chemotaxis family ----
\node[rbox] at (871,1321) {Bacterial chemotaxis};
\node[gene] (mcp) at (781,1372) {MCP};
\node[gene] (chew) at (823,1356) {CheW};
\node[gene] (chea) at (827,1372) {CheA};
\node[gene] (cher) at (827,1404) {CheR};
\node[gene] (chey) at (911,1349) {CheY};
\node[gene] (chev) at (911,1372) {CheV};
\node[gene] (cheb) at (911,1394) {CheB};
\coordinate (atr) at (724,1372);
\node[txt,anchor=east] at (722,1373) {Attractant /\\Repellent};
\draw[act] (atr) -- (mcp);
\draw[act] (chea.east) -- node[lbl,above left]{+p} (chey.west);
\draw[act] (chea.east) -- node[lbl,above]{+p} (chev.west);
\draw[act] (chea.east) -- node[lbl,below left]{+p} (cheb.west);
\draw[act] (cher.north west) -- ([xshift=11pt]mcp.south);
\coordinate (chl1) at (781,1416);
\coordinate (chl2) at (781,1388);
\draw[inh, shorten >=0pt, rounded corners=6pt] (cheb.south) |- (chl1) -- (chl2);
\coordinate (fms) at (993,1349);
\draw[dact] (chey) -- (fms);
\node[txt,anchor=west] at (999,1351) {Flageller motor switch\\Adaptation};
\node[rbox] at (1056,1378) {Flageller assembly};

\node[gene] (chpc) at (823,1438) {ChpC};
\node[gene] (pili) at (823,1458) {PilI};
\node[gene] (pilj) at (781,1476) {PilJ};
\node[gene] (chpa) at (827,1476) {ChpA};
\node[gene] (pilk) at (827,1508) {PilK};
\node[gene] (pilg) at (911,1453) {PilG};
\node[gene] (pilh) at (911,1476) {PilH};
\node[gene] (chpb) at (911,1498) {ChpB};
\draw[act] (chpa.east) -- node[lbl,above left]{+p} (pilg.west);
\draw[act] (chpa.east) -- node[lbl,above]{+p} (pilh.west);
\draw[act] (chpa.east) -- node[lbl,below left]{+p} (chpb.west);
\draw[act] (pilk.north west) -- ([xshift=11pt]pilj.south);
\coordinate (pl1) at (781,1520);
\coordinate (pl2) at (781,1491);
\draw[inh, shorten >=0pt, rounded corners=6pt] (chpb.south) |- (pl1) -- (pl2);
\coordinate (twm) at (977,1468);
\draw[act] (pilg.east) -- (twm);
\draw[act] (pilh.east) -- (twm);
\node[txt,anchor=west] at (981,1468) {Twitching motility};

\node[gene] (pixi) at (823,1543) {PixI};
\node[gene] (pixj) at (781,1560) {PixJ};
\node[gene] (pixl) at (827,1560) {PixL};
\node[gene] (pixg) at (911,1549) {PixG};
\node[gene] (pixh) at (911,1572) {PixH};
\draw[act] (pixl.east) -- node[lbl,above left]{+p} (pixg.west);
\draw[act] (pixl.east) -- node[lbl,below left]{+p} (pixh.west);
\coordinate (ppm) at (977,1562);
\draw[act] (pixg.east) -- (ppm);
\draw[act] (pixh.east) -- (ppm);
\node[txt,anchor=west] at (981,1563) {Positive phototactic motility};

\node[gene] (wspbd) at (823,1603) {\sm{WspB/D}};
\node[gene] (wspa) at (781,1622) {WspA};
\node[gene] (wspe) at (827,1622) {WspE};
\node[gene] (wspc) at (827,1654) {WspC};
\node[gene] (wspr) at (911,1622) {WspR};
\node[gene] (wspf) at (911,1644) {WspF};
\coordinate (scc) at (724,1622);
\node[txt,anchor=east] at (722,1623) {Surfaces or\\cell contact};
\draw[act] (scc) -- (wspa);
\draw[act] (wspe) -- node[lbl,above]{+p} (wspr);
\draw[act] (wspe.east) -- node[lbl,below left]{+p} (wspf.west);
\draw[act] (wspc.north west) -- ([xshift=11pt]wspa.south);
\coordinate (wl1) at (781,1666);
\coordinate (wl2) at (781,1637);
\draw[inh, shorten >=0pt, rounded corners=6pt] (wspf.south) |- (wl1) -- (wl2);
\node[sigc] (cdg1) at (974,1622) {};
\draw[act] (wspr) -- (cdg1);
\node at (976,1610) {c-di-GMP};
\coordinate (epp) at (1013,1622);
\draw[act] (cdg1) -- (epp);
\node[txt,anchor=west] at (1020,1623) {Extracellular polysaccharide production};

\psig{rfl}{723}{1693}{Red/Far-red light}
\node[gene] (cph) at (781,1693) {Cph1};
\node[gene] (rcp) at (870,1693) {Rcp1};
\draw[act] (rfl) -- (cph);
\draw[act] (cph) -- node[lbl,above]{+p} (rcp);
\coordinate (phy) at (929,1693);
\draw[act] (rcp) -- (phy);
\node[txt,anchor=west] at (935,1695) {Phytocrome\\Growth and development};

% ---- Cell cycle family ----
\node[gene] (plec) at (781,1772) {PleC};
\node[gene] (pled) at (870,1772) {PleD};
\node[gene] (divj) at (781,1837) {DivJ};
\node[gene] (divk) at (870,1837) {DivK};
\node[gene] (ccka) at (781,1888) {CckA};
\node[gene] (chpt) at (870,1888) {ChpT};
\node[gene] (ctra) at (961,1878) {CtrA};
\node[gene] (cpdr) at (961,1898) {CpdR};
\node[gene] (hk1) at (781,1935) {Hk1};
\node[gene] (rrp1) at (870,1935) {Rrp1};
\draw[act] (plec) -- node[lbl,above]{+p} (pled);
\coordinate (dk1) at (826,1780);
\coordinate (dk2) at (842,1780);
\coordinate (dk3) at (844,1826);
\draw[act] ([xshift=-6pt]divk.north) -- (dk1);
\draw[act] (divj.north east) -- (dk2);
\draw[inh, shorten >=0pt] (plec.east) -- (dk3);
\node[lbl] at (829,1822) {-p};
\node[lbl] at (849,1790) {+p};
\draw[act] (divj) -- node[lbl,below]{+p} (divk);
\coordinate (dl1) at (781,1862);
\draw[act, rounded corners=6pt] (divk.south) |- (dl1) -- (divj.south);
\coordinate (cka1) at (781,1868);
\draw[inh, shorten >=0pt] (ccka.north) -- (cka1);
\draw[act] (ccka) -- node[lbl,above]{+p} (chpt);
\draw[act] (chpt.east) -- node[lbl,above]{+p} (ctra.west);
\draw[inh] (chpt.east) -- node[lbl,below]{+p} (cpdr.west);
\coordinate (ccp) at (1027,1888);
\draw[act] (ctra.east) -- (ccp);
\draw[act] (cpdr.east) -- (ccp);
\node[txt,anchor=west] at (1030,1889) {Cell cycle progression};
\node[sigc] (cdg2) at (933,1772) {};
\draw[act] (pled) -- (cdg2);
\node at (933,1760) {c-di-GMP};
\coordinate (pmg) at (972,1772);
\draw[act] (cdg2) -- (pmg);
\node[txt,anchor=west] at (980,1773) {Pole morphogenesis};
\coordinate (ccpd) at (929,1837);
\draw[act] (divk) -- (ccpd);
\node[txt,anchor=west] at (935,1838) {Cell cycle progression and development};
\node[rbox] at (1211,1838) {Cell cycle - \textit{Caulobacter}};
\psig{fss}{723}{1935}{Feeding-specific signal}
\draw[act] (fss) -- (hk1);
\draw[act] (hk1) -- node[lbl,above]{+p} (rrp1);
\node[sigc] (cdg3) at (933,1935) {};
\draw[act] (rrp1) -- (cdg3);
\node at (933,1923) {c-di-GMP};
\coordinate (gly) at (972,1935);
\draw[act] (cdg3) -- (gly);
\node[txt,anchor=west] at (980,1936) {Glycerol uptake and utilization};

% ---- Lux family ----
\node at (628,2002) {Autoinducer};
\sig{ai2}{680}{2020}{AI-2}
\sig{cai}{680}{2053}{CAI-1}
\sig{ai1}{680}{2085}{AI-1/HAI-1}
\node[gene] (luxp) at (735,2020) {LuxP};
\node[gene] (luxq) at (781,2020) {LuxQ};
\node[gene] (cqss) at (781,2053) {CqsS};
\node[gene] (luxn) at (781,2085) {LuxN};
\draw[inh, shorten >=5pt] (ai2) -- (luxp);
\draw[inh, shorten >=3pt] (cai) -- (cqss);
\draw[inh, shorten >=3pt] (ai1) -- (luxn);
\node[junc] (lxj) at (841,2053) {};
\node[gene] (luxu) at (870,2053) {LuxU};
\node[gene] (luxo) at (944,2053) {LuxO};
\node[gene] (qrr) at (1018,2053) {Qrr};
\node[gene] (luxr) at (1093,2053) {LuxR};
\chain{luxg}{1144}{2053}{47.5}{LuxC,LuxD,LuxA,LuxB,LuxE}
\draw[act] (luxq.east) -- node[lbl,above right,pos=0.4]{+p} (lxj);
\draw[act] (cqss) -- node[lbl,above]{+p} (lxj);
\draw[act] (luxn.east) -- node[lbl,above,pos=0.6]{+p} (lxj);
\draw[act] (lxj) -- (luxu);
\draw[act] (luxu) -- node[lbl,above]{+p} (luxo);
\eto{luxo}{qrr}
\draw[inh] (qrr) -- (luxr);
\eto{luxr}{luxg1}
\node at (1019,2033) {sRNAs};
\node at (1198,2033) {Luciferase operon};

% ---- LuxR family ----
\sig{c4c3}{719}{2172}{C4-Dicarboxyrate}
\tcs{dcts2}{780}{2172}{DctS}{DctR}
\draw[act] (c4c3) -- (dcts2s);
\chain{dctg}{929}{2172}{46}{DctP,DctQ,DctM}
\eto{dcts2r}{dctg1}
\node[txt,anchor=west] at (1072,2172) {C4-Dicarboxyrate transport};

\sig{ttc}{719}{2204}{Tetrathionate}
\tcs{ttr}{780}{2204}{TtrS}{TtrR}
\draw[act] (ttc) -- (ttrs);
\chain{ttrg}{929}{2204}{46}{TtrA,TtrB,TtrC}
\eto{ttrr}{ttrg1}
\node[txt,anchor=west] at (1072,2204) {Tetrathionate respiration};

\sig{olc2}{719}{2246}{Oxygen limitation}
\tcs{fix}{780}{2246}{FixL}{FixJ}
\draw[act] (olc2) -- (fixs);
\node[gene] (nifa2) at (952,2234) {NifA};
\node[gene] (fixk) at (952,2257) {FixK};
\draw[dact] (fixr.east) -- node[elab]{e} (nifa2.west);
\draw[dact] (fixr.east) -- node[elab]{e} (fixk.west);
\coordinate (nifg) at (1003,2234);
\coordinate (fixg) at (1003,2257);
\eto{nifa2}{nifg}
\eto{fixk}{fixg}
\node[txt,anchor=west] (nift) at (1005,2234) {nif genes};
\node[txt,anchor=west] (fixt) at (1005,2258) {fix genes};
\coordinate (rnf) at (1097,2246);
\draw[dact] (nift.east) -- (rnf);
\draw[dact] (fixt.east) -- (rnf);
\node[txt,anchor=west] at (1102,2246) {Respiration and nitrogen fixation};

\tcs{ssr}{780}{2297}{\sm{SsrA/SpiR}}{SsrB}
\node[gene] (ssra2) at (952,2285) {\sm{SsrA/SpiR}};
\node[gene] (ssrb2) at (1001,2285) {SsrB};
\draw[dact] (ssrr.east) -- node[elab]{e} (ssra2.west);
\coordinate (spi) at (929,2308);
\draw[dact] (ssrr.east) -- node[elab]{e} (spi);
\node[txt,anchor=west] at (932,2308) {SPI-2 genes};
\node[rbox] at (1076,2308) {Bacterial secretion system};

% ---- Other families ----
\node[gene] (flra) at (702,2393) {FlrA};
\node[gene] (sig1) at (702,2415) {σ\textsuperscript{54}};
\tcs{flr}{780}{2402}{FlrB}{FlrC}
\coordinate (flrj) at (726,2402);
\eto{flrj}{flrs}
\coordinate (c3f) at (929,2402);
\eto{flrr}{c3f}
\node[txt,anchor=west] at (932,2402) {Class III flagellar system genes};
\node[rbox] at (1153,2402) {Flageller assembly};

\sig{gluc2}{717}{2449}{Glutamate}
\node[gene] (sig2) at (702,2476) {σ\textsuperscript{54}};
\tcs{aau}{780}{2464}{AauS}{AauR}
\draw[act] (gluc2) -- (aaus.west);
\draw[act] (sig2.east) -- node[elab]{e} (aaus.west);
\chain{aat}{934}{2450}{46}{AatP,AatM,AatQ,AatJ}
\node[gene,anchor=west] (ansa) at (934,2476) {AnsA};
\draw[dact] (aaur.east) -- node[elab]{e} (aat1.west);
\draw[dact] (aaur.east) -- node[elab]{e} (ansa.west);
\coordinate (aa2) at (1152,2464);
\draw[act] ([yshift=-5pt]aat4.south east) -- (aa2);
\node[txt,anchor=west] at (1158,2464) {Acidic amino acid uptake and metabolism};

\psig{hos}{723}{2531}{Hyperosmotic stress}
\tcs{sln}{780}{2531}{Sln1}{Ydp1}
\draw[act] (hos) -- (slns);
\node[gene] (ssk1) at (944,2515) {Ssk1};
\node[gene] (ssk2) at (1018,2515) {Ssk2};
\node[gene] (skn7) at (944,2548) {Skn7};
\draw[inh] (slnr.east) -- node[lbl,above left,pos=0.6]{+p} (ssk1.west);
\draw[act] (slnr.east) -- node[lbl,below left,pos=0.6]{+p} (skn7.west);
\draw[act] (ssk1) -- node[lbl,above]{+p} (ssk2);
\coordinate (osm) at (1071,2515);
\draw[act] (ssk2) -- (osm);
\node[txt,anchor=west] at (1074,2515) {Osmolyte synthesis};
\node[rbox] at (1231,2515) {MAPK signaling\\pathway - yeast};
\coordinate (hsg) at (996,2548);
\eto{skn7}{hsg}
\node[txt,anchor=west] at (1001,2548) {Heat shock genes};

\node[sigc] (dsf) at (720,2617) {};
\node[txt,anchor=east,align=center] at (715,2615) {Diffusible signaling factor\\(DSF)};
\node[gene] (rpfc) at (781,2617) {RpfC};
\node[gene] (rpfg) at (870,2600) {RpfG};
\node[gene] (rpff) at (870,2633) {RpfF};
\draw[act] (dsf) -- (rpfc);
\draw[act] (rpfc.east) -- node[lbl,above left]{+p} (rpfg.west);
\draw (rpfc.east) -- (rpff.west);
\draw (826,2616) -- (826,2632);
\node[sigc] (cdg4) at (933,2588) {};
\node at (933,2575) {c-di-GMP};
\draw[inh, shorten >=3pt] (rpfg.east) -- (cdg4);
\node[gene] (clp) at (996,2588) {Clp};
\node[gene] (sig3) at (996,2610) {σ\textsuperscript{54}};
\draw[inh] (cdg4) -- (clp);
\draw[dact] (rpfg.east) -- (sig3.west);
\coordinate (bfm) at (1046,2601);
\draw[dact] ([xshift=2pt]sig3.north east) -- (bfm);
\node[txt,anchor=west] at (1049,2601) {Biofilm formation, motility, and virulence};
\coordinate (dsfs) at (929,2633);
\draw[act] (rpff) -- (dsfs);
\node[txt,anchor=west] at (935,2633) {DSF synthesis};

\sig{glnc}{719}{2669}{Glutamine}
\tcs{glnk}{780}{2669}{GlnK}{GlnL}
\draw[act] (glnc) -- (glnks);
\node[wgene,anchor=west] (glsa) at (929,2669) {GlsA};
\node[gene,anchor=west] (glnt) at (977,2669) {GlnT};
\eto{glnkr}{glsa}
\node[txt,anchor=west] at (1034,2669) {Glutamine utilization};

\tcs[+p?]{yes}{780}{2706}{YesM}{YesN}

\node[gene] (cika) at (781,2740) {CikA};
\coordinate (cgc) at (846,2740);
\draw[act] (cika) -- (cgc);
\node[txt,anchor=west] at (851,2740) {Circadian genes};

\psig{rdx}{723}{2806}{Redox signal}
\tcs{reg}{780}{2806}{RegB}{RegA}
\draw[act] (rdx) -- (regs);
\chain{puc}{929}{2763}{48}{Puc,Puf,Puh}
\chain{pet}{929}{2793}{46.5}{PetA,PetB,PetC,\sm{CycA/Y}}
\chain{cco}{929}{2821}{46.7}{CcoN,CcoO,CcoQ,CcoP,CydA,CydB}
\node[gene,anchor=west] (nifa3) at (929,2847) {NifA};
\draw[act] (regr.east) -- node[elab]{e} (puc1.west);
\draw[act] (regr.east) -- node[elab]{e} (pet1.west);
\draw[act] (regr.east) -- node[elab]{e} (cco1.west);
\draw[act] (regr.east) -- node[elab]{e} (nifa3.west);
\node[txt,anchor=west] at (1077,2763) {Photosystem};
\node[txt,anchor=west] at (1123,2793) {Electron transfer system};
\node[txt,anchor=west] at (1210,2821) {Aerobic respiration};
\node[txt,anchor=west] at (984,2847) {Nitrogen assimilation};
\node[rbox] at (1325,2798) {Oxidative phosphorylation};
\end{tikzpicture}
\end{document}
